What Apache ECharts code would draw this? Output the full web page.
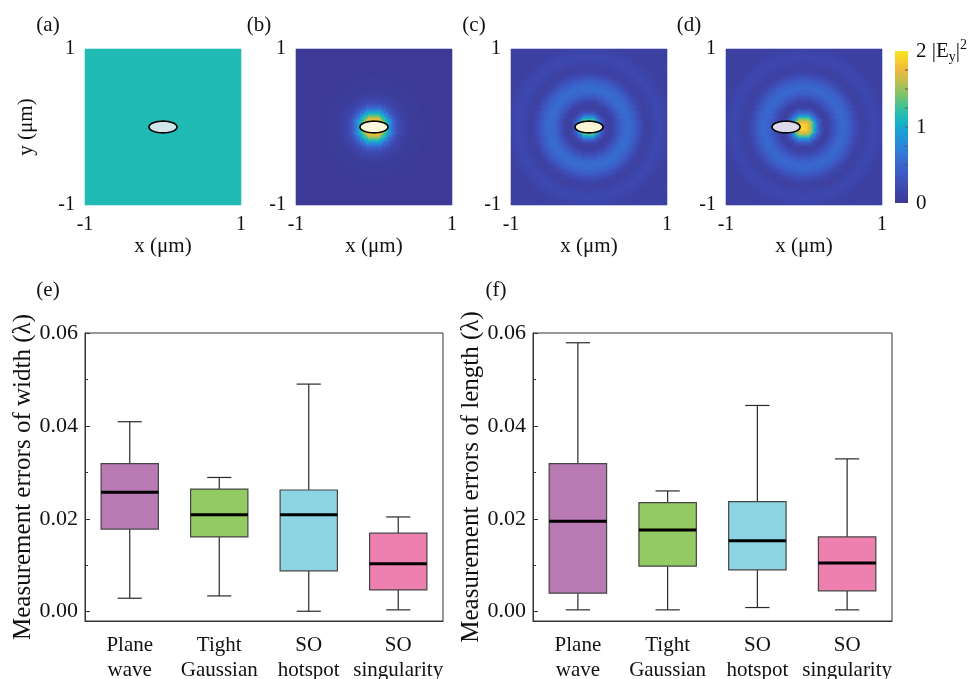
<!DOCTYPE html>
<html>
<head>
<meta charset="utf-8">
<script src="https://cdn.jsdelivr.net/npm/echarts@6/dist/echarts.min.js"></script>
<style>
  html, body { margin: 0; padding: 0; background: #fff; }
  #chart { width: 971px; height: 679px; }
</style>
</head>
<body>
<div id="chart"></div>
<script>
// field maps: |Ey|^2 read as radial profiles, one sample every 0.025 um (last sample holds beyond)
var radiusStep = 0.025;
var planeProfile = [1.15];
var gaussProfile = [2.0, 2.0, 1.95, 1.9, 1.8, 1.62, 1.4, 1.18, 0.95, 0.74, 0.55, 0.41, 0.3, 0.23, 0.17,
  0.13, 0.1, 0.08, 0.06, 0.05, 0.04, 0.035, 0.03, 0.025, 0.02, 0.015, 0.01, 0];
var singularityProfile = [2.0, 1.95, 1.8, 1.6, 1.3, 1.0, 0.7, 0.45, 0.25, 0.13, 0.08, 0.08, 0.12, 0.18, 0.25,
  0.33, 0.4, 0.47, 0.52, 0.54, 0.55, 0.53, 0.5, 0.46, 0.4, 0.33, 0.27, 0.2, 0.15, 0.12,
  0.1, 0.1, 0.12, 0.15, 0.18, 0.19, 0.2, 0.19, 0.18, 0.16, 0.14, 0.12, 0.1, 0.09, 0.08,
  0.08, 0.08, 0.085, 0.09, 0.095, 0.1, 0.095, 0.09, 0.085, 0.08, 0.075, 0.07, 0.07];
var hotspotProfile = [1.95, 1.93, 1.85, 1.72, 1.55, 1.28, 0.95, 0.68, 0.45, 0.28, 0.15, 0.1, 0.1, 0.14, 0.2,
  0.28, 0.35, 0.42, 0.47, 0.5, 0.52, 0.5, 0.48, 0.44, 0.38, 0.32, 0.26, 0.2, 0.15, 0.12,
  0.1, 0.1, 0.12, 0.15, 0.17, 0.18, 0.19, 0.18, 0.17, 0.15, 0.13, 0.11, 0.1, 0.09, 0.08,
  0.08, 0.08, 0.085, 0.09, 0.095, 0.1, 0.095, 0.09, 0.085, 0.08, 0.075, 0.07, 0.07];
var fieldProfiles = [planeProfile, gaussProfile, singularityProfile, hotspotProfile];
var fieldTicks = [-1, 1];
var panelNames = ['(a)', '(b)', '(c)', '(d)'];
var colorRange = [0, 2];
var colorbarTicks = [0.25, 0.5, 0.75, 1, 1.25, 1.5, 1.75];

// particle (ellipse) centre x in um, and half axes
var particleX = [0, 0, 0, -0.23];
var particleAxes = [0.18, 0.075];
var particleFill = ['#cfe7eb', '#fcf8dc', '#fbf5d6', '#dcdaeb'];

// box plots: [min, Q1, median, Q3, max]
var categories = ['Plane\nwave', 'Tight\nGaussian', 'SO\nhotspot', 'SO\nsingularity'];
var widthErr = [
  [0.0029, 0.0178, 0.0257, 0.0319, 0.0409],
  [0.0034, 0.0161, 0.0209, 0.0264, 0.0289],
  [0.0001, 0.0088, 0.0209, 0.0262, 0.0490],
  [0.0004, 0.0047, 0.0103, 0.0169, 0.0204]
];
var lengthErr = [
  [0.0004, 0.0040, 0.0195, 0.0319, 0.0579],
  [0.0004, 0.0098, 0.0176, 0.0235, 0.0260],
  [0.0009, 0.0090, 0.0153, 0.0237, 0.0444],
  [0.0004, 0.0045, 0.0105, 0.0161, 0.0329]
];
var errTicks = [0, 0.02, 0.04, 0.06];
var errMinorTicks = [0.01, 0.03, 0.05];
var boxColors = ['#b97ab4', '#93ca63', '#8dd5e3', '#ee80b0'];

var parula = ['#3d3b96', '#3e43a6', '#3f4db6', '#3d59c2', '#3a66cc', '#3476d3', '#2b86d8', '#2098d6', '#18a8d0',
  '#1cbabb', '#3cc09a', '#6cc276', '#9bc25c', '#c8bd4a', '#f0b83e', '#f6cf2e', '#f7e620'];
var serif = '"Liberation Serif", "Times New Roman", serif';

var N = 78;
var cellIdx = [];
for (var k = 0; k < N; k++) cellIdx.push(k);

function buildField(profile) {
  var data = [];
  for (var i = 0; i < N; i++) {
    for (var j = 0; j < N; j++) {
      var x = -1 + (i + 0.5) * 2 / N;
      var y = -1 + (j + 0.5) * 2 / N;
      var r = Math.min(profile.length - 1, Math.round(Math.sqrt(x * x + y * y) / radiusStep));
      data.push([i, j, profile[r]]);
    }
  }
  return data;
}

var chart = echarts.init(document.getElementById('chart'));

var topLeft = [85, 296, 511, 726];
var grids = [], xAxes = [], yAxes = [], series = [], graphics = [];

// top row of field maps
topLeft.forEach(function (left, p) {
  grids.push({ left: left, top: 49, width: 156, height: 156, outerBoundsMode: 'none' });
  xAxes.push({ type: 'category', gridIndex: p, data: cellIdx, show: false });
  xAxes.push({
    type: 'value', gridIndex: p, min: -1, max: 1, position: 'bottom',
    axisLine: { show: false }, axisTick: { show: false }, splitLine: { show: false },
    axisLabel: { customValues: fieldTicks, fontSize: 20, fontFamily: serif, color: '#111', margin: 10 },
    name: 'x (μm)', nameLocation: 'middle', nameGap: 30,
    nameTextStyle: { fontSize: 21, fontFamily: serif, color: '#111' }
  });
  yAxes.push({ type: 'category', gridIndex: p, data: cellIdx, show: false });
  yAxes.push({
    type: 'value', gridIndex: p, min: -1, max: 1, position: 'left',
    axisLine: { show: false }, axisTick: { show: false }, splitLine: { show: false },
    axisLabel: { customValues: fieldTicks, fontSize: 20, fontFamily: serif, color: '#111', margin: 10 },
    name: p === 0 ? 'y (μm)' : '', nameLocation: 'middle', nameGap: 48,
    nameTextStyle: { fontSize: 21, fontFamily: serif, color: '#111' }
  });
  series.push({
    type: 'heatmap', xAxisIndex: 2 * p, yAxisIndex: 2 * p,
    data: buildField(fieldProfiles[p]), progressive: 0, silent: true
  });
  graphics.push({
    type: 'text', x: left - 37, y: 25,
    style: { text: panelNames[p], fontSize: 21, fontFamily: serif, fill: '#111', align: 'center', verticalAlign: 'middle' }
  });
});

topLeft.forEach(function (left, p) {
  series.push({
    type: 'custom', xAxisIndex: 2 * p + 1, yAxisIndex: 2 * p + 1, silent: true,
    data: [[particleX[p], 0]],
    renderItem: function (params, api) {
      var pts = [];
      for (var t = 0; t < 60; t++) {
        var a = t / 60 * 2 * Math.PI;
        pts.push(api.coord([api.value(0) + particleAxes[0] * Math.cos(a), api.value(1) + particleAxes[1] * Math.sin(a)]));
      }
      return { type: 'polygon', shape: { points: pts }, style: { fill: particleFill[p], stroke: '#000', lineWidth: 1.6 } };
    }
  });
});

// colour bar (grid 4): one gradient rect spanning the colour range, ticks on its right edge
grids.push({ left: 895, top: 51, width: 13, height: 152, outerBoundsMode: 'none' });
xAxes.push({ type: 'value', gridIndex: 4, show: false, min: 0, max: 1 });
yAxes.push({
  type: 'value', gridIndex: 4, min: colorRange[0], max: colorRange[1], interval: 1, position: 'right',
  axisLine: { show: false }, splitLine: { show: false }, axisTick: { show: false },
  axisLabel: {
    margin: 8, color: '#111', fontFamily: serif, fontSize: 21,
    formatter: function (v) { return v === 2 ? '{n|2 |E}{s|y}{n||}{p|2}' : '{n|' + v + '}'; },
    rich: {
      n: { fontSize: 21, fontFamily: serif, color: '#111', lineHeight: 26 },
      s: { fontSize: 14, fontFamily: serif, color: '#111', lineHeight: 12, verticalAlign: 'bottom' },
      p: { fontSize: 14, fontFamily: serif, color: '#111', lineHeight: 18, verticalAlign: 'top' }
    }
  }
});
series.push({
  type: 'custom', xAxisIndex: xAxes.length - 1, yAxisIndex: yAxes.length - 1, silent: true,
  data: [[0, colorRange[0], 1, colorRange[1]]],
  renderItem: function (params, api) {
    var p0 = api.coord([api.value(0), api.value(1)]);
    var p1 = api.coord([api.value(2), api.value(3)]);
    var stops = parula.map(function (c, i) { return { offset: i / (parula.length - 1), color: c }; });
    var children = [{
      type: 'rect',
      shape: { x: p0[0], y: p1[1], width: p1[0] - p0[0], height: p0[1] - p1[1] },
      style: { fill: new echarts.graphic.LinearGradient(0, 1, 0, 0, stops) }
    }];
    colorbarTicks.forEach(function (v) {
      var py = api.coord([1, v])[1];
      children.push({ type: 'line', shape: { x1: p1[0] - 3, y1: py, x2: p1[0], y2: py },
        style: { stroke: '#555', lineWidth: 1 } });
    });
    return { type: 'group', children: children };
  }
});

// box plots (grids 5 and 6)
var boxPanels = [
  { left: 85, width: 358, data: widthErr, title: 'Measurement errors of width (λ)', label: '(e)' },
  { left: 533, width: 359, data: lengthErr, title: 'Measurement errors of length (λ)', label: '(f)' }
];

function renderBox(params, api) {
  var i = api.value(0);
  var band = api.size([1, 0])[0];
  var boxW = band * 0.64, capW = band * 0.27;
  var pMin = api.coord([i, api.value(1)]);
  var pQ1 = api.coord([i, api.value(2)]);
  var pMed = api.coord([i, api.value(3)]);
  var pQ3 = api.coord([i, api.value(4)]);
  var pMax = api.coord([i, api.value(5)]);
  var cx = pMed[0];
  var ln = { stroke: '#2a2a2a', lineWidth: 1.2 };
  return {
    type: 'group',
    children: [
      { type: 'line', shape: { x1: cx, y1: pMax[1], x2: cx, y2: pQ3[1] }, style: ln },
      { type: 'line', shape: { x1: cx, y1: pQ1[1], x2: cx, y2: pMin[1] }, style: ln },
      { type: 'line', shape: { x1: cx - capW / 2, y1: pMax[1], x2: cx + capW / 2, y2: pMax[1] }, style: ln },
      { type: 'line', shape: { x1: cx - capW / 2, y1: pMin[1], x2: cx + capW / 2, y2: pMin[1] }, style: ln },
      { type: 'rect', shape: { x: cx - boxW / 2, y: pQ3[1], width: boxW, height: pQ1[1] - pQ3[1] },
        style: { fill: boxColors[i], stroke: '#444', lineWidth: 1.2 } },
      { type: 'line', shape: { x1: cx - boxW / 2, y1: pMed[1], x2: cx + boxW / 2, y2: pMed[1] },
        style: { stroke: '#000', lineWidth: 3 } }
    ]
  };
}

boxPanels.forEach(function (bp, b) {
  var g = 5 + b;
  grids.push({ left: bp.left, top: 333, width: bp.width, height: 288, outerBoundsMode: 'none',
    show: true, borderColor: '#333', borderWidth: 1 });
  xAxes.push({
    type: 'category', gridIndex: g, data: categories, boundaryGap: true,
    axisLine: { onZero: false, lineStyle: { color: '#333' } },
    axisTick: { inside: true, alignWithLabel: true, length: 5, lineStyle: { color: '#333' } },
    axisLabel: { interval: 0, fontSize: 21, lineHeight: 25, fontFamily: serif, color: '#111', margin: 12 }
  });
  var yMajor = yAxes.length;
  yAxes.push({
    type: 'value', gridIndex: g, min: -0.002, max: 0.06, position: 'left',
    splitLine: { show: false },
    axisLine: { show: true, onZero: false, lineStyle: { color: '#333' } },
    axisTick: { show: true, inside: true, length: 5, customValues: errTicks, lineStyle: { color: '#333' } },
    axisLabel: { customValues: errTicks, fontSize: 22, fontFamily: serif, color: '#111', margin: 7,
      formatter: function (v) { return v.toFixed(2); } },
    name: bp.title, nameLocation: 'middle', nameGap: 48,
    nameTextStyle: { fontSize: 25, fontFamily: serif, color: '#111' }
  });
  yAxes.push({
    type: 'value', gridIndex: g, min: -0.002, max: 0.06, position: 'left',
    splitLine: { show: false }, axisLine: { show: false }, axisLabel: { show: false },
    axisTick: { show: true, inside: true, length: 3, customValues: errMinorTicks, lineStyle: { color: '#333' } }
  });
  series.push({
    type: 'custom', xAxisIndex: xAxes.length - 1, yAxisIndex: yMajor, silent: true,
    data: bp.data.map(function (d, i) { return [i].concat(d); }),
    renderItem: renderBox
  });
  graphics.push({
    type: 'text', x: bp.left - 37, y: 290,
    style: { text: bp.label, fontSize: 21, fontFamily: serif, fill: '#111', align: 'center', verticalAlign: 'middle' }
  });
});

var option = {
  animation: false,
  backgroundColor: '#fff',
  grid: grids,
  xAxis: xAxes,
  yAxis: yAxes,
  visualMap: {
    type: 'continuous', show: false, seriesIndex: [0, 1, 2, 3], dimension: 2,
    min: colorRange[0], max: colorRange[1],
    inRange: { color: parula }
  },
  graphic: graphics,
  series: series
};

chart.setOption(option);
</script>
</body>
</html>
